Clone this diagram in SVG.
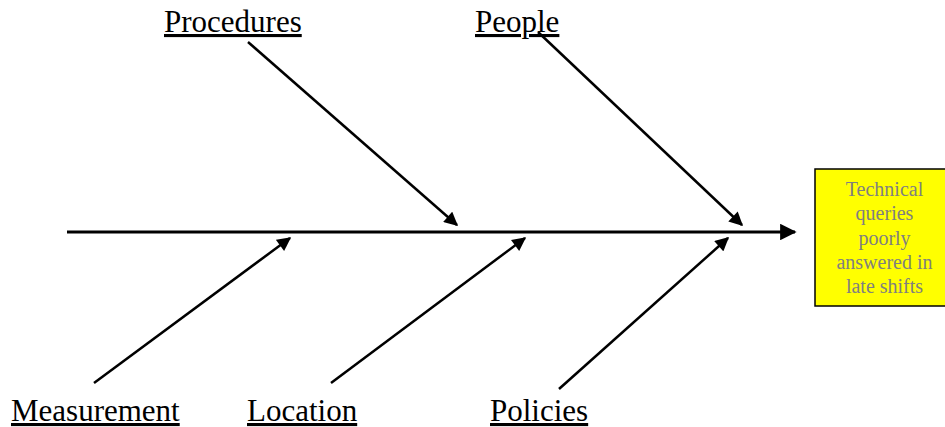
<svg xmlns="http://www.w3.org/2000/svg" width="945" height="427" viewBox="0 0 945 427">
<style>
.lbl{font-family:"Liberation Serif","Times New Roman",serif;font-size:31px;fill:#000;text-decoration:underline}
.eff{font-family:"Liberation Serif","Times New Roman",serif;font-size:20px;fill:#808080;text-anchor:middle}
.bone{stroke:#000;stroke-width:2.5;fill:none;marker-end:url(#ah)}
</style>
<defs>
<marker id="ah" viewBox="0 0 10 10" refX="9" refY="5" markerWidth="6" markerHeight="5.5" orient="auto" markerUnits="strokeWidth">
<path d="M0,0 L10,5 L0,10 Z" fill="#000"/>
</marker>
</defs>
<rect width="945" height="427" fill="#fff"/>
<g id="connectors">
<line class="bone" x1="67" y1="232" x2="795" y2="232" style="stroke-width:3"/>
<line class="bone" x1="248" y1="42" x2="457" y2="225"/>
<line class="bone" x1="538" y1="32" x2="742" y2="225"/>
<line class="bone" x1="94" y1="383" x2="290" y2="238"/>
<line class="bone" x1="331" y1="383" x2="525" y2="238"/>
<line class="bone" x1="559" y1="389" x2="728" y2="238"/>
</g>
<g id="effect">
<rect x="815" y="169" width="140" height="137" fill="#ffff00" stroke="#000" stroke-width="1.5"/>
<text class="eff" x="884.5" y="196">Technical</text>
<text class="eff" x="884.5" y="220">queries</text>
<text class="eff" x="884.5" y="244.5">poorly</text>
<text class="eff" x="884.5" y="269">answered in</text>
<text class="eff" x="884.5" y="293">late shifts</text>
</g>
<g id="procedures"><text class="lbl" x="164" y="32">Procedures</text></g>
<g id="people"><text class="lbl" x="475" y="32">People</text></g>
<g id="measurement"><text class="lbl" x="11" y="421">Measurement</text></g>
<g id="location"><text class="lbl" x="247" y="421">Location</text></g>
<g id="policies"><text class="lbl" x="490" y="421">Policies</text></g>
</svg>
